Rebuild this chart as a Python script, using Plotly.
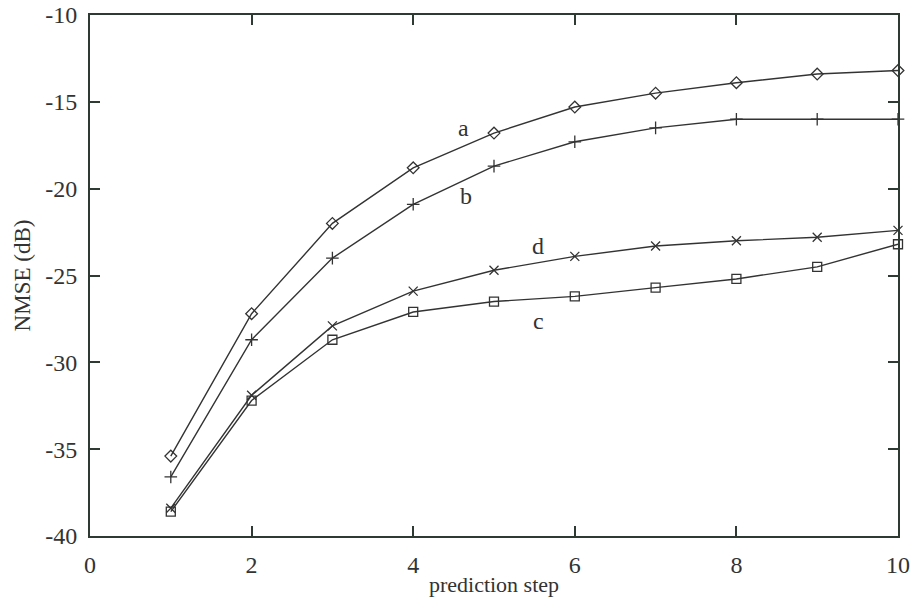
import plotly.graph_objects as go

steps = [1, 2, 3, 4, 5, 6, 7, 8, 9, 10]
series_a = [-35.4, -27.2, -22.0, -18.8, -16.8, -15.3, -14.5, -13.9, -13.4, -13.2]
series_b = [-36.6, -28.7, -24.0, -20.9, -18.7, -17.3, -16.5, -16.0, -16.0, -16.0]
series_c = [-38.6, -32.2, -28.7, -27.1, -26.5, -26.2, -25.7, -25.2, -24.5, -23.2]
series_d = [-38.4, -31.9, -27.9, -25.9, -24.7, -23.9, -23.3, -23.0, -22.8, -22.4]

label_names = ["a", "b", "d", "c"]
label_x = [4.62, 4.65, 5.55, 5.55]
label_y = [-16.5, -20.4, -23.3, -27.6]

line_col = "#333333"
axis_col = "#2f3a33"
serif = "Liberation Serif, Times New Roman, serif"

fig = go.Figure()
for vals, sym in [(series_a, "diamond-open"), (series_b, "cross-thin"),
                  (series_d, "x-thin"), (series_c, "square-open")]:
    fig.add_trace(go.Scatter(
        x=steps, y=vals, mode="lines+markers",
        line=dict(color=line_col, width=1.4),
        marker=dict(symbol=sym, size=9, color=line_col,
                    line=dict(color=line_col, width=1.3)),
        showlegend=False, cliponaxis=False))

for name, lx, ly in zip(label_names, label_x, label_y):
    fig.add_annotation(x=lx, y=ly, text=name, showarrow=False,
                       font=dict(family=serif, size=24, color="#333333"))

axis_common = dict(
    showgrid=False, zeroline=False, showline=True, linecolor=axis_col,
    linewidth=2, mirror="ticks", ticks="inside", ticklen=10,
    tickcolor=axis_col, tickwidth=1.5, automargin=False,
    tickfont=dict(family=serif, size=24, color="#333333"),
)

fig.update_layout(
    width=915, height=597,
    margin=dict(l=90, r=17, t=15, b=61),
    paper_bgcolor="white", plot_bgcolor="white",
    xaxis=dict(range=[0, 10], tickvals=[0, 2, 4, 6, 8, 10],
               ticklabelstandoff=6,
               title=dict(text="prediction step", standoff=0,
                          font=dict(family=serif, size=22, color="#333333")),
               **axis_common),
    yaxis=dict(range=[-40, -10], tickvals=[-40, -35, -30, -25, -20, -15, -10],
               ticktext=["-40", "-35", "-30", "-25", "-20", "-15", "-10"],
               ticklabelstandoff=6,
               title=dict(text="NMSE (dB)", standoff=8,
                          font=dict(family=serif, size=23, color="#333333")),
               **axis_common),
)

fig.write_html("out.html")
